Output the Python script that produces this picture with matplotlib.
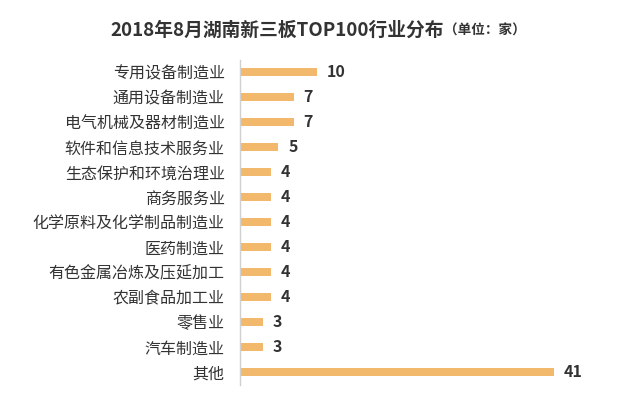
import matplotlib
matplotlib.use("Agg")
import matplotlib.pyplot as plt

plt.rcParams['font.family'] = ['Noto Sans CJK SC', 'DejaVu Sans']

categories = ["专用设备制造业", "通用设备制造业", "电气机械及器材制造业", "软件和信息技术服务业",
              "生态保护和环境治理业", "商务服务业", "化学原料及化学制品制造业", "医药制造业",
              "有色金属冶炼及压延加工", "农副食品加工业", "零售业", "汽车制造业", "其他"]
values = [10, 7, 7, 5, 4, 4, 4, 4, 4, 4, 3, 3, 41]
title = "2018年8月湖南新三板TOP100行业分布"
unit = "（单位：家）"

W, H = 640, 399
fig = plt.figure(figsize=(W / 100, H / 100), dpi=100)
fig.patch.set_facecolor("white")

ax_left, ax_right = 240 / W, 620 / W
ax_top, ax_bot = 1 - 59.5 / H, 1 - 384.5 / H
ax = fig.add_axes([ax_left, ax_bot, ax_right - ax_left, ax_top - ax_bot])

bar_color = "#F2B86C"
text_color = "#333333"
y = list(range(len(categories)))
ax.barh(y, values, height=0.34, color=bar_color, zorder=2)
ax.set_ylim(len(categories) - 0.5, -0.5)
ax.set_xlim(0, 49.6)

for yi, v in zip(y, values):
    ax.annotate(str(v), (v, yi), xytext=(10, 0), textcoords="offset pixels",
                va="center", ha="left", fontsize=11.5, fontweight="bold", color=text_color)

ax.set_yticks(y)
ax.set_yticklabels(categories, fontsize=11.5, color=text_color, fontweight="medium")
ax.tick_params(axis="y", length=0, pad=11)
ax.set_xticks([])
for s in ["top", "right", "bottom"]:
    ax.spines[s].set_visible(False)
ax.spines["left"].set_color("#D0D0D0")
ax.spines["left"].set_linewidth(1.0)

fig.text(110 / W, 1 - 30 / H, title, fontsize=13.5, fontweight="bold", color=text_color,
         ha="left", va="center")
fig.text(444 / W, 1 - 31 / H, unit, fontsize=9.8, fontweight="bold", color=text_color,
         ha="left", va="center")

fig.savefig("out.png", dpi=100, facecolor="white")
